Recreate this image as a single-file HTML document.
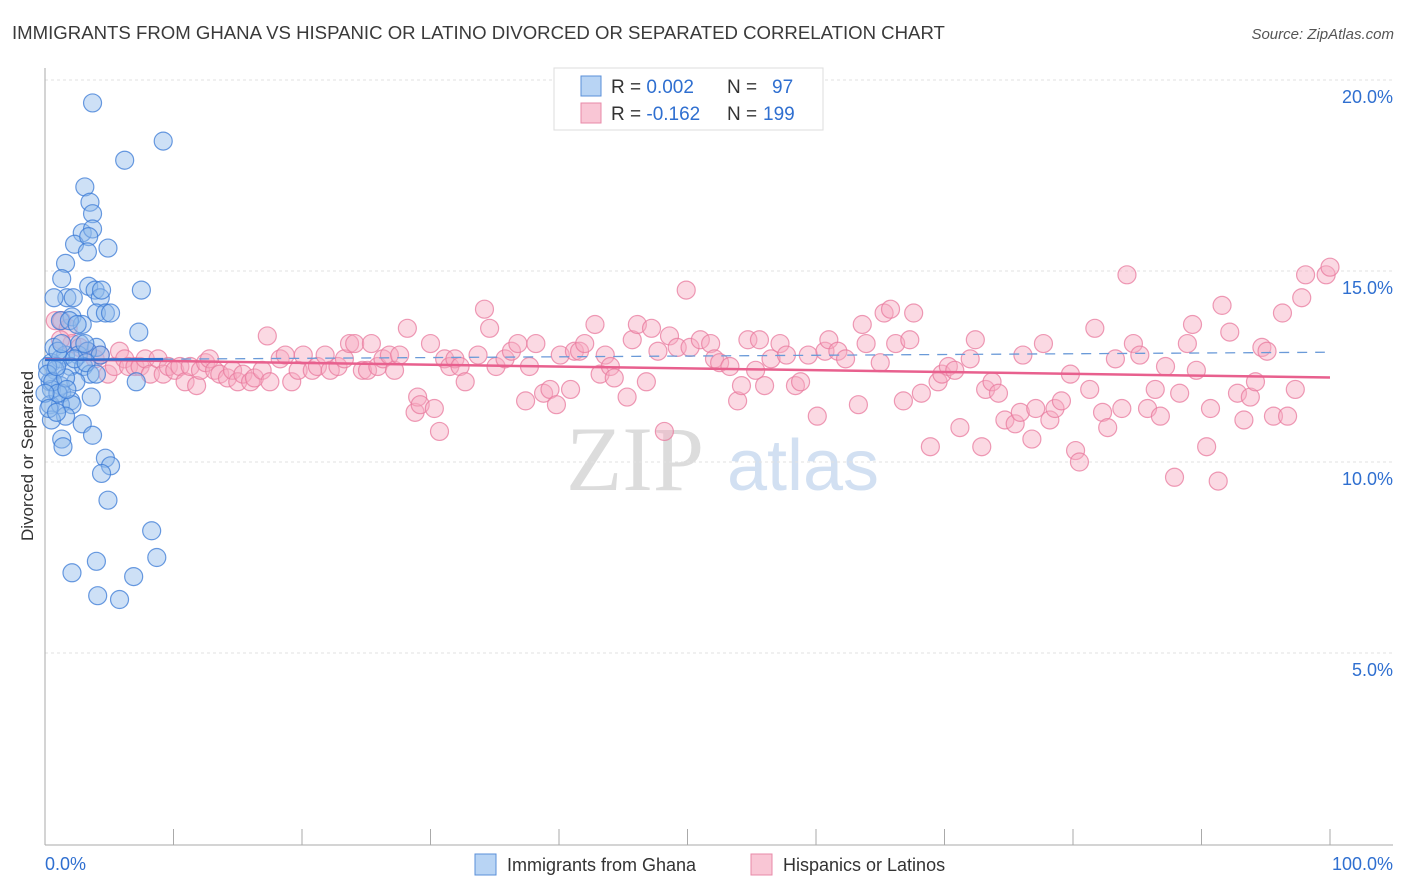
<!DOCTYPE html>
<html><head><meta charset="utf-8"><style>
body{margin:0;background:#fff;font-family:"Liberation Sans",sans-serif;}
svg{display:block}
</style></head><body>
<svg width="1406" height="892" id="chart">
<text x="12" y="39" font-size="18.6" fill="#3a3a3a">IMMIGRANTS FROM GHANA VS HISPANIC OR LATINO DIVORCED OR SEPARATED CORRELATION CHART</text>
<text x="1394" y="39" font-size="15" fill="#555" font-style="italic" text-anchor="end">Source: ZipAtlas.com</text>
<text transform="translate(33,456) rotate(-90)" font-size="17" fill="#333" text-anchor="middle">Divorced or Separated</text>
<g><text x="635" y="490" font-size="92" fill="#dcdcdc" font-family="Liberation Serif,serif" text-anchor="middle">ZIP</text><text x="803" y="490" font-size="72" fill="#d2e0f2" text-anchor="middle">atlas</text></g>
<g id="grid"></g><g id="axes"></g><g id="pts"></g><g id="trend"></g>
<g>
<rect x="554" y="68" width="269" height="62" fill="#fff" stroke="#ddd"/>
<rect x="581" y="76" width="20" height="20" fill="#b8d4f4" stroke="#5a8fd8"/>
<rect x="581" y="103" width="20" height="20" fill="#f9c6d5" stroke="#e88aa8"/>
<text x="611" y="93" font-size="19" fill="#333">R = <tspan fill="#2f6fd0">0.002</tspan><tspan x="727">N = </tspan><tspan x="772" fill="#2f6fd0">97</tspan></text>
<text x="611" y="120" font-size="19" fill="#333">R = <tspan fill="#2f6fd0">-0.162</tspan><tspan x="727">N = </tspan><tspan x="763" fill="#2f6fd0">199</tspan></text>
</g>
<g>
<rect x="475" y="854" width="21" height="21" fill="#b8d4f4" stroke="#5a8fd8"/>
<text x="507" y="871" font-size="18" fill="#333">Immigrants from Ghana</text>
<rect x="751" y="854" width="21" height="21" fill="#f9c6d5" stroke="#e88aa8"/>
<text x="783" y="871" font-size="18" fill="#333">Hispanics or Latinos</text>
</g>
<text x="45" y="870" font-size="18" fill="#2f6fd0">0.0%</text>
<text x="1393" y="870" font-size="18" fill="#2f6fd0" text-anchor="end">100.0%</text>
</svg>
<script>
const yTicks=[5,10,15,20];
const yTickLabels=["5.0%","10.0%","15.0%","20.0%"];
const blueX=[3.7,9.2,6.2,3.1,3.5,3.7,2.9,3.7,2.3,3.4,4.9,3.3,1.6,1.3,3.4,3.9,7.5,1.7,0.7,2.2,4.3,4.0,4.7,2.1,1.2,2.9,7.3,2.7,4.0,0.7,1.6,2.6,3.3,4.3,0.5,1.2,2.0,3.0,3.5,0.8,0.4,1.2,2.4,7.1,0.5,1.3,3.6,2.0,0.4,1.2,2.1,1.6,0.5,2.9,3.7,1.3,1.4,4.7,5.1,4.4,4.9,8.3,4.0,8.7,2.1,6.9,4.1,5.8,0.2,0.2,0.6,1.0,1.6,0.9,0,0.3,1.7,2.3,3.2,1.0,1.3,1.9,2.5,3.1,4.0,5.1,4.4,0.9];
const blueY=[19.4,18.4,17.9,17.2,16.8,16.5,16.0,16.1,15.7,15.9,15.6,15.5,15.2,14.8,14.6,14.5,14.5,14.3,14.3,14.3,14.3,13.9,13.9,13.8,13.7,13.6,13.4,13.1,13.0,13.0,12.8,12.8,12.9,12.8,12.6,12.7,12.5,12.5,12.3,12.4,12.1,12.0,12.1,12.1,11.9,11.8,11.7,11.6,11.5,11.5,11.5,11.2,11.1,11.0,10.7,10.6,10.4,10.1,9.9,9.7,9.0,8.2,7.4,7.5,7.1,7.0,6.5,6.4,12.5,12.3,12.1,11.8,12.2,12.5,11.8,11.4,11.9,12.7,12.6,12.9,13.1,13.7,13.6,13.1,12.3,13.9,14.5,11.3];
const pinkX=[0.8,1.3,1.8,2.1,2.7,1.2,3.3,3.9,4.3,4.9,5.4,5.8,6.2,6.5,7.0,7.4,7.8,8.2,8.8,9.2,9.6,10.1,10.5,10.9,11.3,11.8,12.1,12.5,12.8,13.2,13.6,14.2,14.6,15.0,15.4,16.0,16.3,16.9,17.3,17.5,18.3,18.7,19.2,19.7,20.1,20.8,21.2,21.8,22.2,22.8,23.3,23.7,24.1,24.7,25.1,25.4,25.9,26.3,26.8,27.2,27.6,28.2,28.8,29.0,29.2,30.0,30.3,30.7,31.1,31.5,31.9,32.3,32.7,33.7,34.2,34.6,35.1,35.8,36.3,36.8,37.4,37.7,38.2,38.8,39.3,39.8,40.1,40.9,41.2,41.6,42.0,42.8,43.2,43.6,44.0,44.3,45.3,45.7,46.1,46.8,47.2,47.7,48.2,48.6,49.2,49.9,50.2,51.0,51.8,52.1,52.5,53.3,53.9,54.2,54.7,55.3,55.6,56.0,56.5,57.2,57.7,58.4,58.8,59.4,60.1,60.7,61.0,61.7,62.3,63.3,63.6,63.9,65.0,65.3,65.8,66.2,66.8,67.3,67.6,68.2,68.9,69.5,69.8,70.3,70.8,71.2,72.0,72.4,72.9,73.2,73.7,74.2,74.7,75.5,75.9,76.1,76.8,77.1,77.7,78.2,78.6,79.1,79.8,80.2,80.5,81.3,81.7,82.3,82.7,83.3,83.8,84.2,84.7,85.2,85.8,86.4,86.8,87.2,87.9,88.3,88.9,89.3,89.6,90.4,90.7,91.3,91.6,92.2,92.8,93.3,93.8,94.2,94.7,95.1,95.6,96.3,96.7,97.3,97.8,98.1,99.7,100];
const pinkY=[13.7,13.7,13.5,13.1,13.0,13.2,12.9,12.7,12.8,12.3,12.5,12.9,12.7,12.5,12.5,12.5,12.7,12.3,12.7,12.3,12.5,12.4,12.5,12.1,12.5,12.0,12.4,12.6,12.7,12.4,12.3,12.2,12.4,12.1,12.3,12.1,12.2,12.4,13.3,12.1,12.7,12.8,12.1,12.4,12.8,12.4,12.5,12.8,12.4,12.5,12.7,13.1,13.1,12.4,12.4,13.1,12.5,12.7,12.8,12.4,12.8,13.5,11.3,11.7,11.5,13.1,11.4,10.8,12.7,12.5,12.7,12.5,12.1,12.8,14.0,13.5,12.5,12.7,12.9,13.1,11.6,12.5,13.1,11.8,11.9,11.5,12.8,11.9,12.9,12.9,13.1,13.6,12.3,12.8,12.5,12.2,11.7,13.2,13.6,12.1,13.5,12.9,10.8,13.3,13.0,14.5,13.0,13.2,13.1,12.7,12.6,12.5,11.6,12.0,13.2,12.4,13.2,12.0,12.7,13.1,12.8,12.0,12.1,12.8,11.2,12.9,13.2,12.9,12.7,11.5,13.6,13.1,12.6,13.9,14.0,13.1,11.6,13.2,13.9,11.8,10.4,12.1,12.3,12.5,12.4,10.9,12.7,13.2,10.4,11.9,12.1,11.8,11.1,11.0,11.3,12.8,10.6,11.4,13.1,11.1,11.4,11.6,12.3,10.3,10.0,11.9,13.5,11.3,10.9,12.7,11.4,14.9,13.1,12.8,11.4,11.9,11.2,12.5,9.6,11.8,13.1,13.6,12.4,10.4,11.4,9.5,14.1,13.4,11.8,11.1,11.7,12.1,13.0,12.9,11.2,13.9,11.2,11.9,14.3,14.9,14.9,15.1];
const NS="http://www.w3.org/2000/svg";
const X0=45,X1=1330,Y0=844,PPY=38.2;
function sx(v){return X0+(X1-X0)*v/100;}
function sy(v){return Y0-PPY*v;}
function el(t,a,p){const e=document.createElementNS(NS,t);for(const k in a)e.setAttribute(k,a[k]);document.getElementById(p).appendChild(e);return e;}
yTicks.forEach((t,i)=>{
 const g=el('line',{x1:45,x2:1393,y1:sy(t),y2:sy(t),stroke:'#e2e2e2','stroke-dasharray':'3,3'},'grid');
 
 
 const tx=el('text',{x:1393,y:sy(t)+23,'font-size':18,fill:'#2f6fd0','text-anchor':'end'},'grid');
 tx.textContent=yTickLabels[i];
 
 
});
const ya=el('line',{x1:45,x2:45,y1:68,y2:845,stroke:'#aaa'},'axes');


const xa=el('line',{x1:45,x2:1393,y1:845,y2:845,stroke:'#aaa'},'axes');


for(let i=1;i<=10;i++){const tk=el('line',{x1:sx(i*10),x2:sx(i*10),y1:829,y2:845,stroke:'#aaa'},'axes');
 
 }
function dots(xs,ys,fill,stroke,name){xs.forEach((x,i)=>{const c=el('circle',{cx:sx(x),cy:sy(ys[i]),r:9,fill:fill,'fill-opacity':0.45,stroke:stroke,'stroke-opacity':0.75,'stroke-width':1.2},'pts');
 
 });}
dots(pinkX,pinkY,'#f6aac0','#e87a9e','hispanic-point');
dots(blueX,blueY,'#90bbec','#3a7ad6','ghana-point');
function reg(xs,ys){const n=xs.length;let mx=0,my=0;for(let i=0;i<n;i++){mx+=xs[i];my+=ys[i];}mx/=n;my/=n;let a=0,b=0;for(let i=0;i<n;i++){a+=(xs[i]-mx)*(ys[i]-my);b+=(xs[i]-mx)**2;}const s=a/b;return [s,my-s*mx];}
const [ps,pi]=reg(pinkX,pinkY);
const pl=el('line',{x1:sx(0),y1:sy(pi),x2:sx(100),y2:sy(pi+ps*100),stroke:'#e8608e','stroke-width':2.5},'trend');


// Ghana correlation is ~0 → near-flat trend at the mean value, with a slight rise
const blueMean=blueY.reduce((a,b)=>a+b,0)/blueY.length;
const bSlope=0.002;
const bmax=Math.max(...blueX);
function bt(x){return blueMean+bSlope*x;}
const bl=el('line',{x1:sx(0),y1:sy(bt(0)),x2:sx(bmax),y2:sy(bt(bmax)),stroke:'#2f6fd0','stroke-width':2.5},'trend');


const bd=el('line',{x1:sx(bmax),y1:sy(bt(bmax)),x2:sx(99.6),y2:sy(bt(99.6)),stroke:'#6a9ad8','stroke-width':1.3,'stroke-dasharray':'10,8'},'trend');


</script>
</body></html>
